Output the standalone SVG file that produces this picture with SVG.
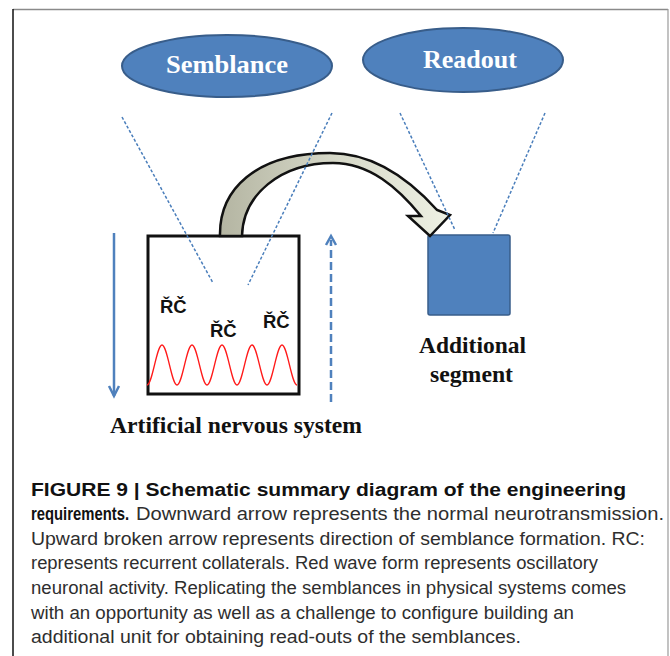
<svg xmlns="http://www.w3.org/2000/svg" width="670" height="656" viewBox="0 0 670 656">
  <style>
    .oval { fill: #4F81BD; stroke: #385D8A; stroke-width: 2; }
    .oval-text { font-family: "Liberation Serif", "Times New Roman", serif; font-weight: bold; fill: #FFFFFF; text-anchor: middle; }
    .serif-label { font-family: "Liberation Serif", "Times New Roman", serif; font-weight: bold; fill: #111111; font-size: 23.5px; }
    .rc { font-family: "Liberation Sans", Arial, sans-serif; font-weight: bold; font-size: 18.5px; fill: #111111; }
    .beam { fill: none; stroke: #4A7EBB; stroke-width: 1.5; stroke-dasharray: 3 2; }
    .flow { fill: none; stroke: #4F81BD; stroke-width: 2.5; }
    .cap { font-family: "Liberation Sans", Arial, sans-serif; font-size: 17.5px; fill: #2e2e2e; }
    .cap-b { font-family: "Liberation Sans", Arial, sans-serif; font-size: 17.5px; font-weight: bold; fill: #111111; }
  </style>
  <defs>
    <linearGradient id="arcFill" x1="220" y1="0" x2="450" y2="0" gradientUnits="userSpaceOnUse">
      <stop offset="0" stop-color="#B4B5A2"/>
      <stop offset="0.5" stop-color="#D6D8C8"/>
      <stop offset="1" stop-color="#EEF1E4"/>
    </linearGradient>
  </defs>

  <rect x="0" y="0" width="670" height="656" fill="#FFFFFF"/>

  <!-- figure frame -->
  <g id="frame">
    <line x1="13" y1="9.5" x2="668" y2="9.5" stroke="#8A8A8A" stroke-width="1.5"/>
    <line x1="668" y1="9" x2="668" y2="656" stroke="#9A9A9A" stroke-width="1.2"/>
    <line x1="13" y1="9" x2="13" y2="656" stroke="#111111" stroke-width="1.5"/>
  </g>

  <!-- nodes -->
  <g id="semblance">
    <ellipse class="oval" cx="227" cy="66" rx="105" ry="31"/>
    <text class="oval-text" x="227" y="73" font-size="25" textLength="122" lengthAdjust="spacingAndGlyphs">Semblance</text>
  </g>

  <g id="readout">
    <ellipse class="oval" cx="463" cy="60" rx="100" ry="32"/>
    <text class="oval-text" x="470" y="68" font-size="25.5" textLength="94" lengthAdjust="spacingAndGlyphs">Readout</text>
  </g>

  <g id="nervous-system">
    <rect x="148" y="236" width="151" height="158" fill="#FFFFFF" stroke="#111111" stroke-width="3"/>
    <text class="rc" x="160" y="313">ŘČ</text>
    <text class="rc" x="210" y="337">ŘČ</text>
    <text class="rc" x="263" y="328">ŘČ</text>
    <!-- oscillatory activity -->
    <path fill="none" stroke="#FF1A1A" stroke-width="1.3"
      d="M147,385 C152.4,385 156.6,345 162,345 C167.4,345 171.6,385 177,385
         C182.4,385 186.6,345 192,345 C197.4,345 201.6,385 207,385
         C212.4,385 216.6,345 222,345 C227.4,345 231.6,385 237,385
         C242.4,385 246.6,345 252,345 C257.4,345 261.6,385 267,385
         C272.4,385 276.6,345 282,345 C287.4,345 291.6,385 297,385"/>
    <text class="serif-label" x="110" y="433" textLength="252" lengthAdjust="spacingAndGlyphs">Artificial nervous system</text>
  </g>

  <g id="additional-segment">
    <rect x="428" y="235" width="82" height="80" rx="2" fill="#4F81BD" stroke="#385D8A" stroke-width="1.5"/>
    <text class="serif-label" x="472.5" y="353" text-anchor="middle" textLength="107" lengthAdjust="spacingAndGlyphs">Additional</text>
    <text class="serif-label" x="471.5" y="382" text-anchor="middle" textLength="83" lengthAdjust="spacingAndGlyphs">segment</text>
  </g>

  <!-- connectors -->
  <g id="connectors">
    <!-- curved transfer arrow -->
    <path fill="url(#arcFill)" stroke="#111111" stroke-width="2.5" stroke-linejoin="miter"
      d="M220,236 C219,190 255,153 330,153 C375,153 410,180 437,210 L450,215 L430,236 L408,216 L421,216 C398,188 370,163 333,163 C280,163 243,195 242,236 Z"/>

    <!-- projection beams -->
    <line class="beam" x1="122" y1="117" x2="213" y2="283"/>
    <line class="beam" x1="332" y1="113" x2="248" y2="285"/>
    <line class="beam" x1="400" y1="113" x2="455" y2="230"/>
    <line class="beam" x1="545" y1="113" x2="493" y2="233"/>

    <!-- downward neurotransmission arrow -->
    <line class="flow" x1="114" y1="233" x2="114" y2="396"/>
    <polyline class="flow" points="109,386 114,396 119,386" stroke-linejoin="miter"/>

    <!-- upward semblance formation arrow -->
    <line class="flow" x1="331" y1="402" x2="331" y2="240" stroke-dasharray="8 4"/>
    <polyline class="flow" points="326,245 331,236 336,245"/>
  </g>

  <!-- caption -->
  <g id="caption">
    <text class="cap-b" x="31" y="496" textLength="595" lengthAdjust="spacingAndGlyphs">FIGURE 9 | Schematic summary diagram of the engineering</text>
    <text class="cap-b" x="31" y="520" textLength="98" lengthAdjust="spacingAndGlyphs">requirements.</text>
    <text class="cap" x="136" y="520" textLength="528" lengthAdjust="spacingAndGlyphs">Downward arrow represents the normal neurotransmission.</text>
    <text class="cap" x="31" y="545" textLength="614" lengthAdjust="spacingAndGlyphs">Upward broken arrow represents direction of semblance formation. RC:</text>
    <text class="cap" x="31" y="569" textLength="567" lengthAdjust="spacingAndGlyphs">represents recurrent collaterals. Red wave form represents oscillatory</text>
    <text class="cap" x="31" y="594" textLength="595" lengthAdjust="spacingAndGlyphs">neuronal activity. Replicating the semblances in physical systems comes</text>
    <text class="cap" x="31" y="619" textLength="543" lengthAdjust="spacingAndGlyphs">with an opportunity as well as a challenge to configure building an</text>
    <text class="cap" x="31" y="643" textLength="490" lengthAdjust="spacingAndGlyphs">additional unit for obtaining read-outs of the semblances.</text>
  </g>
</svg>
